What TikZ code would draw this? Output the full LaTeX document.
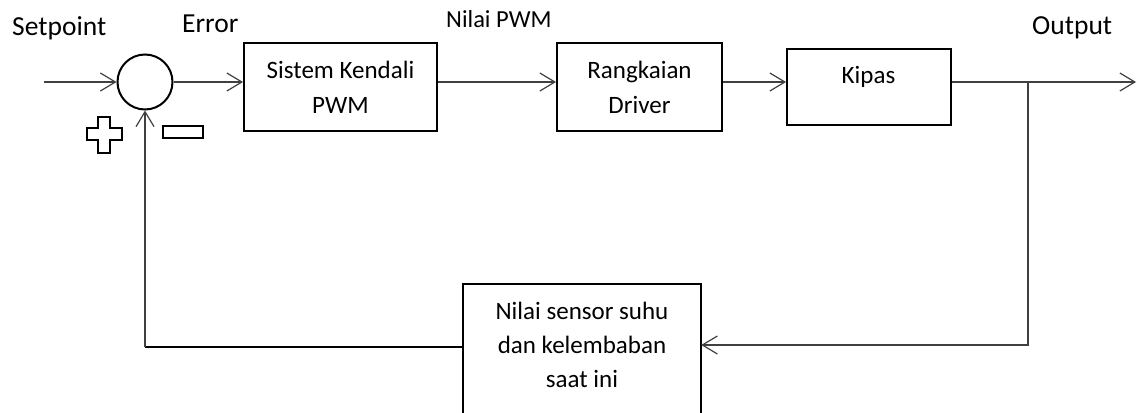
\documentclass[tikz,border=0pt]{standalone}
\usepackage{fontspec}
\setmainfont{Carlito}
\usetikzlibrary{arrows.meta}
\tikzset{
  blockbox/.style={draw=black, line width=2pt, minimum width=#1, inner sep=0pt},
  conn/.style={draw=black!75, line width=1.2pt},
  arr/.style={conn, -{Straight Barb[length=15pt, width=18pt, line width=1.2pt]}},
  biglabel/.style={font=\fontsize{27.5}{32}\selectfont, anchor=base west, inner sep=0pt},
  boxtext/.style={font=\fontsize{25}{35}\selectfont, align=center, inner sep=0pt},
}
\begin{document}
\begin{tikzpicture}[x=1pt, y=-1pt]
\useasboundingbox (0,0) rectangle (1137,412);
\clip (0,0) rectangle (1137,412);

% labels
\node[biglabel] (setpoint) at (12,36) {Setpoint};
\node[biglabel] (error) at (182,33) {Error};
\node[biglabel] (output) at (1032,35) {Output};
\node[biglabel, font=\fontsize{24.5}{30}\selectfont] (nilaipwm) at (446,28) {Nilai PWM};

% summing junction
\node[draw=black, line width=2pt, circle, minimum size=55pt, inner sep=0pt] (sum) at (145,82) {};

% blocks
\node[blockbox=193pt, minimum height=88pt, boxtext] (ctrl) at (340.5,87) {Sistem Kendali\\PWM};
\node[blockbox=165pt, minimum height=88pt, boxtext] (drv) at (639.5,87) {Rangkaian\\Driver};
\node[blockbox=164pt, minimum height=76pt] (kipas) at (869,87) {};
\node[boxtext, anchor=base] (kipastxt) at (868.5,83) {Kipas};

% sensor block (bottom lies below the picture)
\node[draw=none, minimum width=238pt, minimum height=170pt, anchor=north, inner sep=0pt] (sensor) at (582,284) {};
\draw[line width=2pt] (sensor.south west) -- (sensor.north west) -- (sensor.north east) -- (sensor.south east);
\node[boxtext, font=\fontsize{25}{34}\selectfont, anchor=north] (sensortxt) at (582,302) {Nilai sensor suhu\\dan kelembaban\\saat ini};

% plus and minus signs
\draw[line width=2pt] (98,117) -- (110,117) -- (110,128) -- (122,128) -- (122,140) -- (110,140) -- (110,153) -- (98,153) -- (98,140) -- (87,140) -- (87,128) -- (98,128) -- cycle;
\node[draw=black, line width=2pt, minimum width=40pt, minimum height=12pt, inner sep=0pt] (minus) at (183,132) {};

% coordinates
\coordinate (in) at (44,82);
\coordinate (out) at (1136,82);
\coordinate (branch) at (1028,82);
\coordinate (fbturn) at (1028,345);
\coordinate (corner) at (145,347);

% connectors
\draw[arr] (in) -- (sum.west);
\draw[arr] (sum.east) -- (sum.east -| ctrl.west);
\draw[arr] (ctrl.east |- sum) -- (drv.west |- sum);
\draw[arr] (drv.east |- sum) -- (kipas.west |- sum);
\draw[arr] (kipas.east |- sum) -- (out);
\draw[arr] (branch) -- (fbturn) -- (fbturn -| sensor.east);
\draw[line width=2pt] (sensor.west |- corner) -- (corner);
\draw[arr] (corner) -- (sum.south);
\end{tikzpicture}
\end{document}
